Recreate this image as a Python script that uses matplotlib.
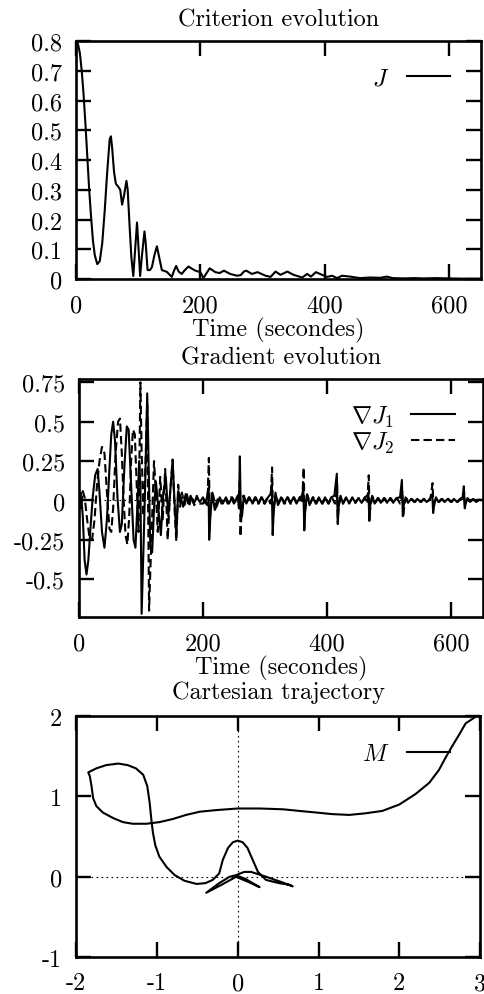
import matplotlib
matplotlib.use("Agg")
import matplotlib.pyplot as plt

# ------------------------------------------------------------------ #
# data

# criterion J(t)
crit_t = [0, 3, 6, 9, 12, 15, 18, 21, 24, 27, 30, 34, 38, 42, 46, 50, 54, 56, 58, 61,
          64, 68, 71, 74, 77, 81, 83, 86, 89, 92, 95, 98, 100, 103, 106, 110, 112, 115,
          119, 122, 126, 130, 134, 138, 146, 154, 158, 161, 165, 170, 175, 181, 186,
          192, 200, 205, 210, 215, 224, 231, 238, 248, 259, 265, 270, 274, 283, 292,
          305, 313, 321, 329, 340, 350, 364, 372, 378, 386, 396, 404, 412, 420, 428,
          441, 457, 473, 490, 500, 510, 527, 545, 560, 580, 600, 630, 655]
crit_J = [0.80, 0.79, 0.76, 0.70, 0.62, 0.52, 0.41, 0.30, 0.21, 0.13, 0.08, 0.05, 0.06,
          0.12, 0.23, 0.36, 0.47, 0.48, 0.44, 0.36, 0.32, 0.31, 0.30, 0.25, 0.28, 0.33,
          0.30, 0.18, 0.07, 0.01, 0.10, 0.19, 0.12, 0.01, 0.08, 0.16, 0.12, 0.03, 0.03,
          0.04, 0.08, 0.11, 0.07, 0.03, 0.024, 0.007, 0.03, 0.044, 0.025, 0.017, 0.03,
          0.042, 0.035, 0.028, 0.023, 0.003, 0.02, 0.036, 0.023, 0.02, 0.028, 0.017,
          0.011, 0.013, 0.025, 0.028, 0.017, 0.023, 0.011, 0.007, 0.025, 0.014, 0.025,
          0.014, 0.005, 0.017, 0.008, 0.023, 0.014, 0.007, 0.011, 0.003, 0.011, 0.008,
          0.003, 0.005, 0.004, 0.008, 0.003, 0.002, 0.003, 0.002, 0.003, 0.002, 0.001,
          0.001]

# gradient components
grad1_t = [0, 3, 6, 9, 12, 15, 18, 22, 26, 30, 33, 37, 41, 45, 49, 52, 55, 58, 62, 66,
           69, 73, 77, 80, 84, 88, 91, 94, 97, 99, 101, 104, 107, 110, 112, 115, 118,
           121, 124, 128, 132, 136, 140, 144, 148, 151, 154, 157, 160, 164, 168, 172,
           176, 180, 185, 190, 195,
           200, 204, 207, 209, 210, 212, 215, 219, 223, 227, 232, 237, 242, 247, 252, 256,
           258, 259.5, 261, 263, 266, 270, 275, 280, 285, 290, 295, 300, 305, 309,
           311, 312.5, 314, 317, 321, 326, 331, 336, 341, 346, 351, 356, 360,
           362, 363.5, 365, 368, 372, 377, 382, 387, 392, 397, 402, 407, 412,
           416, 417.5, 419, 422, 426, 431, 436, 441, 446, 451, 456, 461, 465,
           467, 468.5, 470, 473, 477, 482, 487, 492, 497, 502, 507, 512, 518,
           521, 522.5, 524, 527, 531, 536, 541, 546, 551, 556, 561, 566,
           570, 571.5, 573, 576, 580, 585, 590, 595, 600, 605, 610, 615, 619,
           621, 622.5, 624, 627, 631, 636, 641, 646, 652]
grad1_v = [0.0, 0.05, -0.1, -0.38, -0.47, -0.38, -0.2, 0.02, 0.16, 0.2, 0.05, -0.2, -0.3,
           -0.12, 0.2, 0.42, 0.5, 0.38, 0.02, -0.2, -0.15, 0.2, 0.47, 0.45, 0.1, -0.25,
           -0.3, -0.05, 0.25, 0.1, -0.72, -0.3, 0.15, 0.68, 0.3, -0.3, -0.33, -0.05, 0.12,
           -0.05, -0.22, 0.05, 0.15, -0.1, 0.1, 0.25, 0.0, -0.22, 0.06, 0.02, -0.04, 0.04,
           -0.02, 0.03, -0.02, 0.02, -0.01,
           0.02, -0.02, 0.03, 0.08, -0.25, -0.1, 0.05, -0.06, -0.03, 0.02, -0.02, 0.02,
           -0.02, 0.02, -0.01, 0.03,
           -0.05, 0.28, -0.08, -0.1, 0.03, -0.02, 0.02, -0.02, 0.02, -0.02, 0.02, -0.02,
           0.02, 0.04,
           0.1, -0.22, -0.08, 0.05, -0.03, 0.02, -0.02, 0.02, -0.02, 0.02, -0.02, 0.02, 0.03,
           0.08, -0.19, -0.06, 0.04, -0.03, 0.02, -0.02, 0.02, -0.02, 0.02, -0.02, 0.02, 0.03,
           0.17, -0.15, -0.04, 0.03, -0.02, 0.02, -0.02, 0.02, -0.015, 0.015, -0.015, 0.02,
           0.03,
           0.05, -0.13, -0.03, 0.03, -0.02, 0.015, -0.015, 0.015, -0.015, 0.015, -0.015,
           0.015, 0.02,
           0.13, -0.1, -0.03, 0.02, -0.015, 0.01, -0.01, 0.01, -0.01, 0.01, -0.01, 0.01,
           0.04, -0.08, -0.02, 0.02, -0.01, 0.01, -0.01, 0.01, -0.01, 0.01, -0.01, 0.01,
           0.02,
           0.09, -0.05, -0.02, 0.015, -0.01, 0.01, -0.01, 0.005, 0.0]

grad2_t = [0, 3, 6, 9, 13, 17, 21, 25, 29, 33, 37, 41, 45, 49, 52, 55, 59, 63, 66, 69,
           72, 75, 78, 81, 84, 87, 90, 93, 96, 99, 101, 104, 107, 110, 113, 115, 118,
           121, 124, 127, 131, 135, 139, 143, 147, 151, 154, 157, 160, 163, 166, 170,
           174, 178, 182, 186, 190, 195,
           200, 204, 207, 209.5, 211, 213, 216, 220, 225, 230, 235, 240, 245, 250, 255,
           258, 259.5, 260.5, 262, 265, 269, 274, 279, 284, 289, 294, 299, 304, 309,
           311.5, 313, 315, 318, 322, 327, 332, 337, 342, 347, 352, 357, 360,
           362.5, 364, 366, 369, 373, 378, 383, 388, 393, 398, 403, 408, 413,
           415, 416.5, 417.5, 419, 422, 426, 431, 436, 441, 446, 451, 456, 461, 465,
           467.5, 469, 471, 474, 478, 483, 488, 493, 498, 503, 508, 513, 518,
           521, 522, 523, 525, 528, 532, 537, 542, 547, 552, 557, 562, 567,
           570.5, 572, 574, 577, 581, 586, 591, 596, 601, 606, 611, 616, 619,
           621.5, 622.5, 624, 627, 631, 636, 641, 646, 652]
grad2_v = [0.0, -0.05, 0.06, 0.02, -0.12, -0.24, -0.25, -0.12, 0.1, 0.25, 0.34, 0.3, 0.05,
           -0.18, -0.2, -0.05, 0.3, 0.5, 0.52, 0.3, 0.0, -0.22, -0.28, -0.1, 0.25, 0.45,
           0.42, 0.1, -0.2, 0.75, 0.3, -0.1, 0.2, 0.62, -0.7, -0.45, -0.1, 0.25, 0.05,
           -0.2, 0.15, -0.12, 0.2, -0.25, 0.05, 0.26, -0.05, -0.26, 0.1, -0.04, 0.05,
           -0.03, 0.04, -0.03, 0.03, -0.03, 0.03, -0.02,
           -0.02, 0.02, -0.03, 0.27, -0.12, -0.02, 0.04, -0.03, 0.02, -0.02, 0.02, -0.02,
           0.02, -0.02, 0.02,
           0.04, 0.12, -0.23, -0.1, 0.03, -0.02, 0.02, -0.02, 0.02, -0.02, 0.02, -0.02,
           0.02, -0.02,
           0.21, -0.1, -0.02, 0.03, -0.02, 0.02, -0.02, 0.02, -0.02, 0.02, -0.02, 0.02,
           -0.02,
           0.21, -0.1, -0.02, 0.03, -0.02, 0.02, -0.02, 0.02, -0.02, 0.02, -0.02, 0.02,
           -0.02,
           0.04, 0.1, -0.12, -0.03, 0.02, -0.02, 0.02, -0.015, 0.015, -0.015, 0.015,
           -0.015, 0.015, -0.02,
           0.16, -0.08, -0.02, 0.02, -0.015, 0.015, -0.015, 0.015, -0.015, 0.015, -0.015,
           0.015, -0.02,
           0.03, 0.06, -0.11, -0.03, 0.015, -0.01, 0.01, -0.01, 0.01, -0.01, 0.01, -0.01,
           0.01,
           0.11, -0.06, -0.01, 0.015, -0.01, 0.01, -0.01, 0.01, -0.01, 0.01, -0.01, 0.01,
           -0.01,
           0.05, -0.04, -0.01, 0.01, -0.01, 0.005, -0.005, 0.005, 0.0]

# cartesian path of M, from the start (top right) to the end near the origin
traj_x = [2.94, 2.82, 2.74, 2.65, 2.57, 2.49, 2.37, 2.2, 2.0, 1.79, 1.58, 1.38, 1.17, 0.97,
          0.76, 0.56, 0.27, 0.0, -0.27, -0.47, -0.64, -0.8, -0.97, -1.13, -1.3, -1.42,
          -1.54, -1.67, -1.75, -1.79, -1.81, -1.83, -1.85,
          -1.75, -1.63, -1.48, -1.36, -1.26, -1.17, -1.12, -1.09, -1.07, -1.05, -1.02,
          -0.97, -0.88, -0.78, -0.66, -0.51, -0.4, -0.31, -0.23, -0.185, -0.12, -0.06,
          0.0, 0.06, 0.12, 0.185, 0.25, 0.35, 0.51, 0.64, 0.68,
          0.55, 0.35, 0.165, 0.08, -0.02, -0.1, -0.23, -0.39, -0.2, 0.0, 0.1, 0.27, 0.12,
          0.0]
traj_y = [1.99, 1.91, 1.77, 1.62, 1.48, 1.33, 1.17, 1.03, 0.9, 0.82, 0.79, 0.77, 0.78, 0.8,
          0.82, 0.84, 0.85, 0.85, 0.83, 0.81, 0.77, 0.72, 0.68, 0.66, 0.66, 0.68, 0.73,
          0.8, 0.88, 0.98, 1.13, 1.25, 1.3,
          1.35, 1.39, 1.41, 1.39, 1.35, 1.27, 1.13, 0.92, 0.72, 0.55, 0.39, 0.25, 0.12,
          0.02, -0.05, -0.09, -0.08, -0.04, 0.04, 0.21, 0.36, 0.43,
          0.45, 0.43, 0.36, 0.21, 0.06, -0.04, -0.08, -0.1, -0.12,
          -0.07, 0.0, 0.06, 0.06, 0.02, 0.0, -0.08, -0.2, -0.1, 0.01, -0.03, -0.13, -0.06,
          -0.01]

crit_yticks = [0, 0.1, 0.2, 0.3, 0.4, 0.5, 0.6, 0.7, 0.8]
crit_ylabels = ['0', '0.1', '0.2', '0.3', '0.4', '0.5', '0.6', '0.7', '0.8']
grad_yticks = [-0.5, -0.25, 0, 0.25, 0.5, 0.75]
grad_ylabels = ['-0.5', '-0.25', '0', '0.25', '0.5', '0.75']
time_ticks = [0, 200, 400, 600]
time_labels = ['0', '200', '400', '600']
cart_xticks = [-2, -1, 0, 1, 2, 3]
cart_yticks = [-1, 0, 1, 2]

# ------------------------------------------------------------------ #

FS = 17.5
plt.rcParams['font.family'] = ['cmr10', 'DejaVu Serif']
plt.rcParams['mathtext.fontset'] = 'cm'
plt.rcParams['axes.unicode_minus'] = False
plt.rcParams['font.size'] = FS
plt.rcParams['axes.linewidth'] = 1.9

fig = plt.figure(figsize=(4.85, 9.95), dpi=100)
ax1 = fig.add_axes([0.157, 0.7186, 0.835, 0.239])
ax2 = fig.add_axes([0.163, 0.3789, 0.833, 0.239])
ax3 = fig.add_axes([0.157, 0.0372, 0.833, 0.242])

lw = 1.5


def style(ax):
    ax.tick_params(direction='in', length=11, width=1.7, top=True, right=True,
                   labelsize=FS)
    ax.tick_params(axis='x', pad=11)
    ax.tick_params(axis='y', pad=10)


# criterion
ax1.plot(crit_t, crit_J, 'k-', lw=lw, label='$J$')
ax1.set_xlim(0, 652)
ax1.set_ylim(0, 0.8)
ax1.set_yticks(crit_yticks, crit_ylabels)
ax1.set_xticks(time_ticks, time_labels)
ax1.set_title('Criterion evolution', pad=11, fontsize=FS)
ax1.set_xlabel('Time (secondes)', labelpad=0, fontsize=FS)
style(ax1)
ax1.legend(loc='center right', bbox_to_anchor=(0.924, 0.845), frameon=False,
           markerfirst=False, handlelength=1.8, handletextpad=0.7, borderpad=0,
           borderaxespad=0)

# gradient
ax2.axhline(0, color='k', lw=0.8, ls=(0, (1.5, 3)))
ax2.plot(grad1_t, grad1_v, 'k-', lw=lw, label=r'$\nabla J_1$')
ax2.plot(grad2_t, grad2_v, 'k', lw=lw, ls=(0, (4, 2)), label=r'$\nabla J_2$')
ax2.set_xlim(0, 652)
ax2.set_ylim(-0.74, 0.77)
ax2.set_yticks(grad_yticks, grad_ylabels)
ax2.set_xticks(time_ticks, time_labels)
ax2.set_title('Gradient evolution', pad=11, fontsize=FS)
ax2.set_xlabel('Time (secondes)', labelpad=0, fontsize=FS)
style(ax2)
ax2.legend(loc='center right', bbox_to_anchor=(0.93, 0.79), frameon=False,
           markerfirst=False, handlelength=1.8, handletextpad=0.7, borderpad=0,
           borderaxespad=0, labelspacing=0.05)

# cartesian trajectory
ax3.axhline(0, color='k', lw=0.8, ls=(0, (1.5, 3)))
ax3.axvline(0, color='k', lw=0.8, ls=(0, (1.5, 3)))
ax3.plot(traj_x, traj_y, 'k-', lw=lw, label='$M$')
ax3.set_xlim(-2, 3)
ax3.set_ylim(-1, 2)
ax3.set_xticks(cart_xticks, [str(v) for v in cart_xticks])
ax3.set_yticks(cart_yticks, [str(v) for v in cart_yticks])
ax3.set_title('Cartesian trajectory', pad=13, fontsize=FS)
style(ax3)
ax3.legend(loc='center right', bbox_to_anchor=(0.926, 0.842), frameon=False,
           markerfirst=False, handlelength=1.8, handletextpad=0.7, borderpad=0,
           borderaxespad=0)

fig.savefig('out.png', dpi=100)
